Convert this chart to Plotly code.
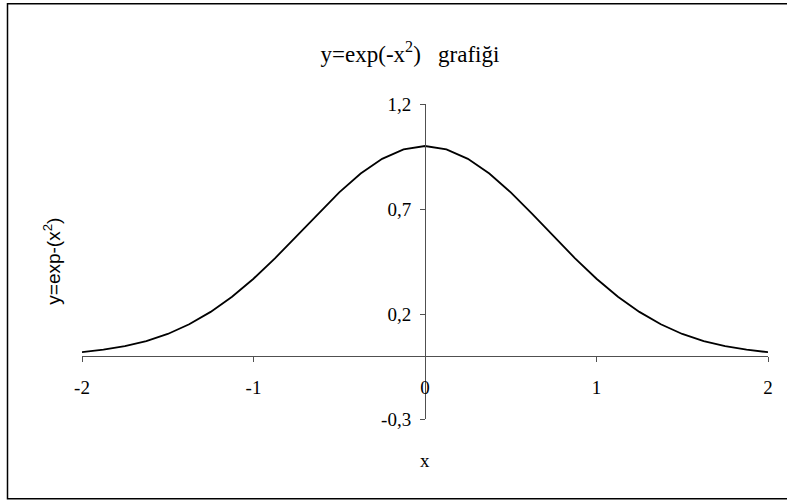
import plotly.graph_objects as go

# Sample points of y = exp(-x^2), x from -2 to 2 in steps of 0.125
x_vals = [-2.0, -1.875, -1.75, -1.625, -1.5, -1.375, -1.25, -1.125, -1.0,
          -0.875, -0.75, -0.625, -0.5, -0.375, -0.25, -0.125, 0.0,
          0.125, 0.25, 0.375, 0.5, 0.625, 0.75, 0.875, 1.0,
          1.125, 1.25, 1.375, 1.5, 1.625, 1.75, 1.875, 2.0]
y_vals = [0.018, 0.030, 0.047, 0.071, 0.105, 0.151, 0.210, 0.282, 0.368,
          0.465, 0.570, 0.677, 0.779, 0.869, 0.939, 0.984, 1.000,
          0.984, 0.939, 0.869, 0.779, 0.677, 0.570, 0.465, 0.368,
          0.282, 0.210, 0.151, 0.105, 0.071, 0.047, 0.030, 0.018]

x_ticks = [-2, -1, 0, 1, 2]
x_tick_labels = ["-2", "-1", "0", "1", "2"]
y_ticks = [-0.3, 0.2, 0.7, 1.2]
y_tick_labels = ["-0,3", "0,2", "0,7", "1,2"]

serif = "Liberation Serif, Times New Roman, serif"
sans = "Liberation Sans, Arial, sans-serif"
axis_color = "#505050"

fig = go.Figure()
fig.add_trace(go.Scatter(
    x=x_vals, y=y_vals, mode="lines",
    line=dict(color="black", width=1.8),
    showlegend=False, hoverinfo="skip",
))

fig.update_layout(
    width=787, height=502,
    margin=dict(l=82, r=19, t=104, b=83),
    paper_bgcolor="white", plot_bgcolor="white",
    title=dict(
        text="y=exp(-x<sup>2</sup>)\u00a0\u00a0 grafiği",
        x=410 / 787, xanchor="center",
        y=1 - 54 / 502, yanchor="middle",
        font=dict(family=serif, size=23, color="black"),
    ),
    xaxis=dict(
        range=[-2, 2], anchor="free", position=0.2,
        tickvals=x_ticks, ticktext=x_tick_labels,
        ticks="outside", ticklen=5, tickcolor=axis_color,
        ticklabelstandoff=9,
        showline=True, linecolor=axis_color, linewidth=1,
        showgrid=False, zeroline=False,
        tickfont=dict(family=serif, size=19, color="black"),
    ),
    yaxis=dict(
        range=[-0.3, 1.2], anchor="free", position=0.5,
        tickvals=y_ticks, ticktext=y_tick_labels,
        ticks="outside", ticklen=5, tickcolor=axis_color,
        ticklabelstandoff=5,
        showline=True, linecolor=axis_color, linewidth=1,
        showgrid=False, zeroline=False,
        tickfont=dict(family=serif, size=19, color="black"),
    ),
    annotations=[
        dict(text="x", xref="paper", yref="paper",
             x=0.5, y=(419.3 - 461) / 315, xanchor="center", yanchor="middle",
             showarrow=False, font=dict(family=serif, size=19, color="black")),
        dict(text="y=exp-(x<sup>2</sup>)", xref="paper", yref="paper",
             x=(52 - 82) / 686, y=(419.3 - 262) / 315,
             xanchor="center", yanchor="middle", textangle=-90,
             showarrow=False, font=dict(family=sans, size=19, color="black")),
    ],
    shapes=[
        dict(type="rect", xref="paper", yref="paper",
             x0=(7.5 - 82) / 686, x1=(790 - 82) / 686,
             y0=(419.3 - 499) / 315, y1=(419.3 - 4) / 315,
             line=dict(color="black", width=1.5), fillcolor="rgba(0,0,0,0)"),
    ],
)

fig.write_html("out.html")
